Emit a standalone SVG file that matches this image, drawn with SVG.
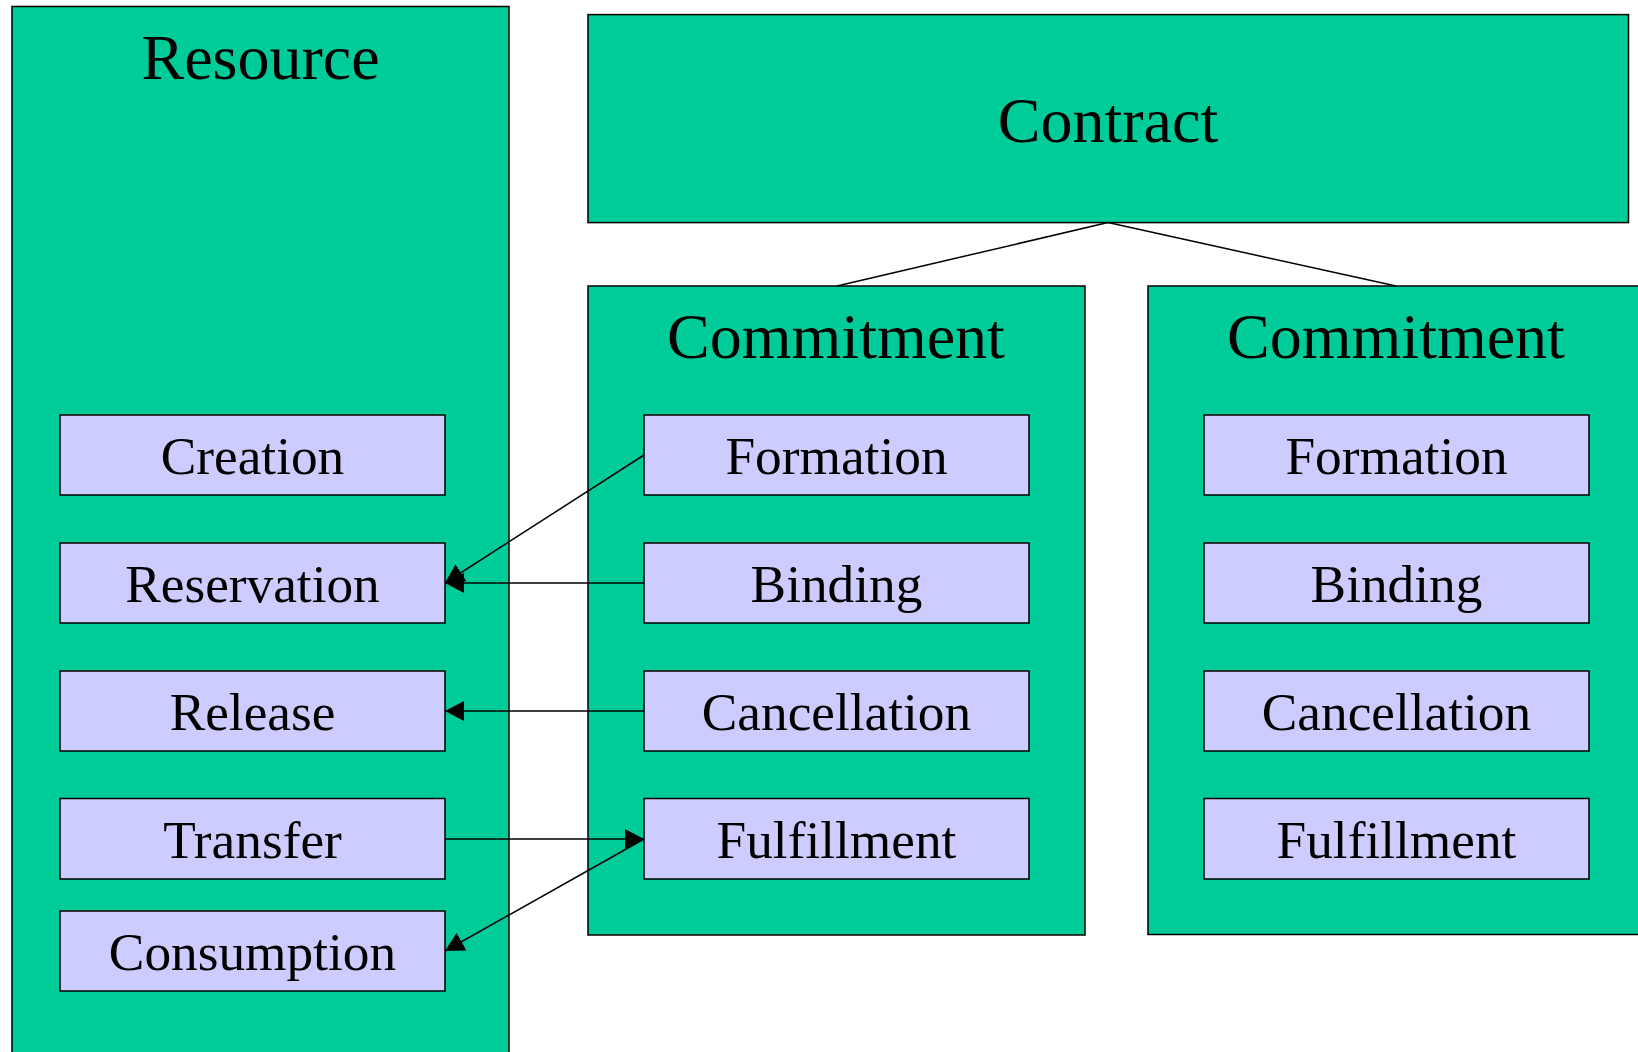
<svg xmlns="http://www.w3.org/2000/svg" width="1638" height="1052" viewBox="0 0 1638 1052">
<style>
.big{fill:#00CC99;stroke:#000;stroke-width:1.5}
.sub{fill:#CCCCFF;stroke:#000;stroke-width:1.5}
.t64{font-family:"Liberation Serif","Times New Roman",serif;font-size:64px;fill:#000;text-anchor:middle}
.t53{font-family:"Liberation Serif","Times New Roman",serif;font-size:53.3px;fill:#000;text-anchor:middle}
.conn{stroke:#000;stroke-width:1.5;fill:none}
</style>
<defs>
<marker id="arr" markerUnits="userSpaceOnUse" markerWidth="20" markerHeight="20" refX="19" refY="10" orient="auto">
<path d="M0,0 L19,10 L0,20 z" fill="#000"/>
</marker>
</defs>
<rect width="1638" height="1052" fill="#fff"/>
<g id="resource">
<rect class="big" x="12" y="6.5" width="497" height="1060"/>
<text class="t64" x="260.5" y="79">Resource</text>
</g>
<g id="creation"><rect class="sub" x="60" y="415" width="385" height="80"/><text class="t53" x="252.5" y="474">Creation</text></g>
<g id="reservation"><rect class="sub" x="60" y="543" width="385" height="80"/><text class="t53" x="252.5" y="602">Reservation</text></g>
<g id="release"><rect class="sub" x="60" y="671" width="385" height="80"/><text class="t53" x="252.5" y="730">Release</text></g>
<g id="transfer"><rect class="sub" x="60" y="798.5" width="385" height="80.5"/><text class="t53" x="252.5" y="858">Transfer</text></g>
<g id="consumption"><rect class="sub" x="60" y="911" width="385" height="80"/><text class="t53" x="252.5" y="970">Consumption</text></g>

<g id="contract">
<rect class="big" x="588" y="14.6" width="1040.5" height="208"/>
<text class="t64" x="1108" y="142">Contract</text>
</g>

<g id="commitment1">
<rect class="big" x="588" y="286" width="497" height="649"/>
<text class="t64" x="836" y="358">Commitment</text>
</g>
<g id="formation1"><rect class="sub" x="644" y="415" width="385" height="80"/><text class="t53" x="836.5" y="474">Formation</text></g>
<g id="binding1"><rect class="sub" x="644" y="543" width="385" height="80"/><text class="t53" x="836.5" y="602">Binding</text></g>
<g id="cancellation1"><rect class="sub" x="644" y="671" width="385" height="80"/><text class="t53" x="836.5" y="730">Cancellation</text></g>
<g id="fulfillment1"><rect class="sub" x="644" y="798.5" width="385" height="80.5"/><text class="t53" x="836.5" y="858">Fulfillment</text></g>

<g id="commitment2">
<rect class="big" x="1148" y="286" width="497" height="648.5"/>
<text class="t64" x="1396" y="358">Commitment</text>
</g>
<g id="formation2"><rect class="sub" x="1204" y="415" width="385" height="80"/><text class="t53" x="1396.5" y="474">Formation</text></g>
<g id="binding2"><rect class="sub" x="1204" y="543" width="385" height="80"/><text class="t53" x="1396.5" y="602">Binding</text></g>
<g id="cancellation2"><rect class="sub" x="1204" y="671" width="385" height="80"/><text class="t53" x="1396.5" y="730">Cancellation</text></g>
<g id="fulfillment2"><rect class="sub" x="1204" y="798.5" width="385" height="80.5"/><text class="t53" x="1396.5" y="858">Fulfillment</text></g>

<g id="connectors">
<line class="conn" x1="1108" y1="222.6" x2="837" y2="286"/>
<line class="conn" x1="1108" y1="222.6" x2="1396" y2="286"/>
<line class="conn" x1="644" y1="455" x2="445" y2="583" marker-end="url(#arr)"/>
<line class="conn" x1="644" y1="583" x2="445" y2="583" marker-end="url(#arr)"/>
<line class="conn" x1="644" y1="711" x2="445" y2="711" marker-end="url(#arr)"/>
<line class="conn" x1="445" y1="839" x2="644" y2="839" marker-end="url(#arr)"/>
<line class="conn" x1="644" y1="839" x2="445" y2="951" marker-end="url(#arr)"/>
</g>
</svg>
